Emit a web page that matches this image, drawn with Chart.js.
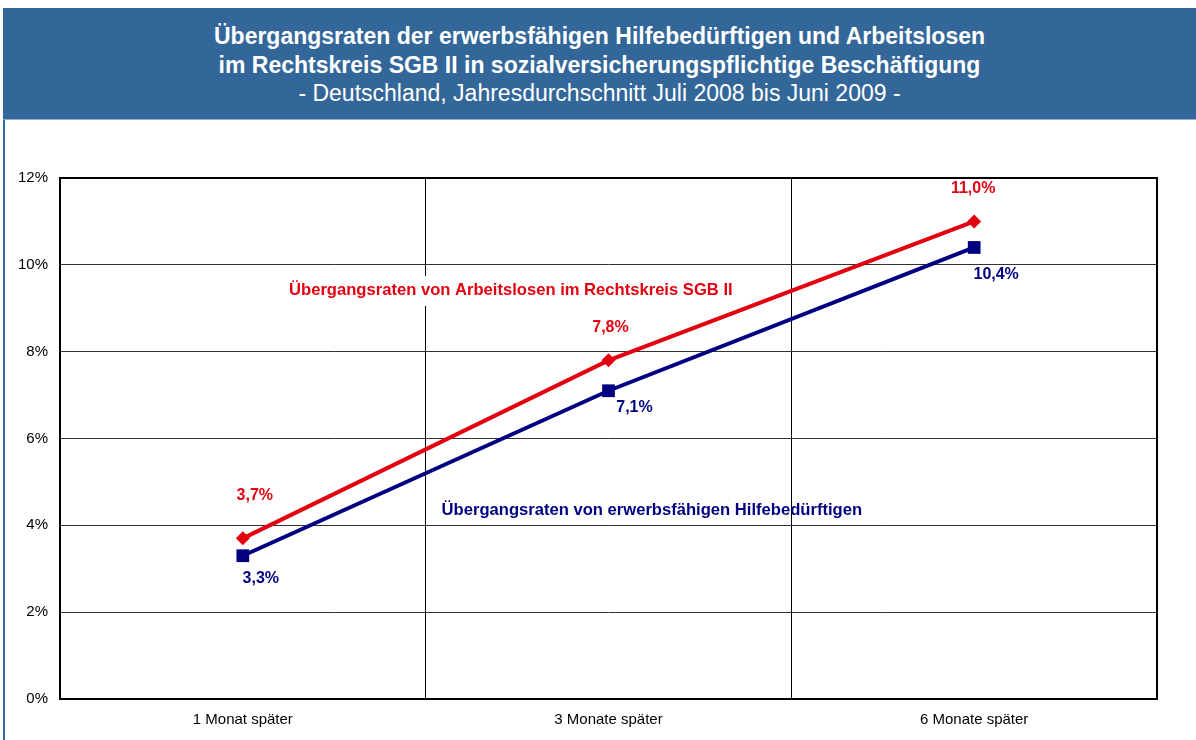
<!DOCTYPE html>
<html>
<head>
<meta charset="utf-8">
<script src="https://cdn.jsdelivr.net/npm/chart.js@4/dist/chart.umd.min.js"></script>
<style>
  body { margin: 0; background: #fff; font-family: Arial, "Liberation Sans", sans-serif; }
  #frame { position: absolute; left: 3px; top: 8px; width: 1200px; height: 740px; border-left: 2px solid #346799; }
  #header { position: absolute; left: 3px; top: 8px; width: 1193px; height: 111px; background: #346799;
            border-bottom: 1px solid #8fb0d0; color: #fff; text-align: center; }
  #header .t { font-weight: bold; font-size: 23px; line-height: 29px; }
  #header .s { font-size: 23px; line-height: 27px; }
  #wrap { position: absolute; left: 0; top: 120px; width: 1196px; height: 620px; }
</style>
</head>
<body>
<div id="frame"></div>
<div id="header">
  <div style="height:14px"></div>
  <div class="t">Übergangsraten der erwerbsfähigen Hilfebedürftigen und Arbeitslosen</div>
  <div class="t">im Rechtskreis SGB II in sozialversicherungspflichtige Beschäftigung</div>
  <div class="s">- Deutschland, Jahresdurchschnitt Juli 2008 bis Juni 2009 -</div>
</div>
<div id="wrap"><canvas id="chart"></canvas></div>
<script>
// data
const categories = ['1 Monat später', '3 Monate später', '6 Monate später'];
const arbeitslose = [3.7, 7.8, 11.0];
const hilfebeduerftige = [3.3, 7.1, 10.4];
const yTicks = [0, 2, 4, 6, 8, 10, 12];

const RED = '#e3000f';
const BLUE = '#000080';

// label offsets per point (pixels from marker)
const redOffsets = [[12, -43], [2, -33], [-1, -33]];
const blueOffsets = [[18, 23], [26, 17], [22, 27]];

const fmt = (v) => v.toFixed(1).replace('.', ',') + '%';

const labelPlugin = {
  id: 'labels',
  beforeDatasetsDraw(chart) {
    const { ctx, chartArea: a } = chart;
    ctx.save();
    ctx.strokeStyle = '#000';
    ctx.lineWidth = 2;
    ctx.strokeRect(a.left, a.top, a.right - a.left, a.bottom - a.top);
    ctx.restore();
  },
  afterDatasetsDraw(chart) {
    const { ctx } = chart;
    ctx.save();
    ctx.font = 'bold 16px Arial, "Liberation Sans", sans-serif';
    ctx.textAlign = 'center';
    ctx.textBaseline = 'middle';
    const sets = [[0, redOffsets, RED], [1, blueOffsets, BLUE]];
    sets.forEach(([di, offs, col]) => {
      const meta = chart.getDatasetMeta(di);
      const vals = chart.data.datasets[di].data;
      meta.data.forEach((pt, i) => {
        ctx.fillStyle = col;
        ctx.fillText(fmt(vals[i]), pt.x + offs[i][0], pt.y + offs[i][1]);
      });
    });

    // series names
    ctx.font = 'bold 16.6px Arial, "Liberation Sans", sans-serif';
    const x = chart.scales.x, y = chart.scales.y;
    const name1 = 'Übergangsraten von Arbeitslosen im Rechtskreis SGB II';
    const cx1 = x.getPixelForValue(0) + 268, cy1 = y.getPixelForValue(9.40);
    const w1 = ctx.measureText(name1).width;
    ctx.fillStyle = '#fff';
    ctx.fillRect(cx1 - w1 / 2 - 4, cy1 - 15, w1 + 8, 30);
    ctx.fillStyle = RED;
    ctx.fillText(name1, cx1, cy1);

    const name2 = 'Übergangsraten von erwerbsfähigen Hilfebedürftigen';
    ctx.fillStyle = BLUE;
    ctx.fillText(name2, x.getPixelForValue(0) + 409, y.getPixelForValue(4.35));
    ctx.restore();
  }
};

new Chart(document.getElementById('chart'), {
  type: 'line',
  data: {
    labels: categories,
    datasets: [
      {
        label: 'Arbeitslose',
        data: arbeitslose,
        borderColor: RED,
        backgroundColor: RED,
        borderWidth: 4,
        pointStyle: 'rectRot',
        pointRadius: 7,
        pointBorderWidth: 0,
        tension: 0
      },
      {
        label: 'Hilfebedürftige',
        data: hilfebeduerftige,
        borderColor: BLUE,
        backgroundColor: BLUE,
        borderWidth: 4,
        pointStyle: 'rect',
        pointRadius: 9,
        pointBorderWidth: 0,
        tension: 0
      }
    ]
  },
  options: {
    responsive: true,
    maintainAspectRatio: false,
    animation: false,
    layout: { padding: { left: 0, right: 39, top: 58, bottom: 0 } },
    plugins: { legend: { display: false }, tooltip: { enabled: false } },
    scales: {
      x: {
        offset: true,
        grid: { offset: true, color: '#000', lineWidth: 1, drawTicks: false },
        border: { display: false },
        ticks: { color: '#000', padding: 12, font: { family: 'Arial', size: 15 } },
        afterFit: (s) => { s.height = 41; }
      },
      y: {
        min: 0,
        max: 12,
        afterBuildTicks: (s) => { s.ticks = yTicks.map((v) => ({ value: v })); },
        grid: { color: '#333', lineWidth: 1, drawTicks: false },
        border: { display: false },
        ticks: { color: '#000', padding: 12, font: { family: 'Arial', size: 15 }, callback: (v) => v + '%' },
        afterFit: (s) => { s.width = 60; }
      }
    }
  },
  plugins: [labelPlugin]
});
</script>
</body>
</html>
